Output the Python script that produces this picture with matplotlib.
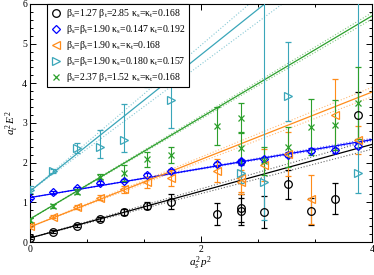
import numpy as np
import matplotlib
matplotlib.use('Agg')
import matplotlib.pyplot as plt
from matplotlib.ticker import MultipleLocator

plt.rcParams['font.family'] = ['Liberation Serif', 'DejaVu Serif']
plt.rcParams['mathtext.fontset'] = 'custom'
plt.rcParams['mathtext.rm'] = 'Liberation Serif'
plt.rcParams['mathtext.it'] = 'Liberation Serif:italic'

# momentum values a_s^2 p^2 (n^2 = 9 appears twice)
p2 = [0, 0.274, 0.548, 0.822, 1.097, 1.371, 1.645, 2.193, 2.467, 2.467,
      2.742, 3.016, 3.290, 3.564, 3.838]

black_y = [0.11, 0.26, 0.41, 0.57, 0.76, 0.91, 1.02, 0.70, 0.85, 0.77, 0.76, 1.45, 0.77, 1.09, 3.19]
black_err = [0.03, 0.03, 0.04, 0.05, 0.07, 0.09, 0.20, 0.28, 0.35, 0.35, 0.40, 0.36, 0.33, 0.39, 0.60]

blue_y = [1.11, 1.25, 1.36, 1.49, 1.55, 1.68, 1.78, 1.97, 2.03, 2.01, 2.08, 2.20, 2.30, 2.31, 2.43]
blue_err = [0.03, 0.03, 0.03, 0.04, 0.04, 0.05, 0.05, 0.05, 0.06, 0.06, 0.06, 0.06, 0.06, 0.07, 0.07]

orange_y = [0.41, 0.64, 0.88, 1.12, 1.33, 1.51, 1.61, 1.80, 1.51, 1.62, 1.95, 2.22, 1.08, 3.21, 2.58]
orange_err = [0.04, 0.04, 0.05, 0.07, 0.09, 0.14, 0.20, 0.30, 0.30, 0.35, 0.40, 0.55, 0.62, 0.90, 0.35]

green_y = [0.56, 0.91, 1.27, 1.65, 1.75, 2.08, 2.20, 2.92, 3.13, 2.37, 2.05, 2.40, 2.90, 2.94, 3.50]
green_err = [0.05, 0.05, 0.06, 0.07, 0.20, 0.20, 0.20, 0.48, 0.38, 0.40, 0.35, 0.50, 0.70, 0.63, 0.90]

teal_x = [0, 0.274, 0.548, 0.822, 1.097, 1.371, 1.645, 2.467, 2.742, 3.016, 3.838]
teal_y = [1.32, 1.78, 2.37, 2.40, 2.56, 4.60, 3.59, 1.74, 1.51, 3.67, 1.74]
teal_lo = [0.08, 0.05, 0.13, 0.28, 0.28, 0.70, 0.71, 0.25, 0.95, 0.63, 0.51]
teal_hi = [0.08, 0.05, 0.13, 0.42, 0.91, 0.70, 0.38, 0.25, 5.00, 1.37, 5.00]

# dispersion fits: intercept, slope, slope error
fit_a = [0.10, 1.12, 0.38, 1.28, 0.58]
fit_b = [0.59, 0.365, 0.85, 1.72, 1.28]
fit_db = [0.03, 0.008, 0.03, 0.12, 0.02]

labels = [
    r'β$_\mathrm{s}$=1.27 β$_\mathrm{t}$=2.85 κ$_\mathrm{s}$=κ$_\mathrm{t}$=0.168',
    r'β$_\mathrm{s}$=β$_\mathrm{t}$=1.90 κ$_\mathrm{s}$=0.147 κ$_\mathrm{t}$=0.192',
    r'β$_\mathrm{s}$=β$_\mathrm{t}$=1.90 κ$_\mathrm{s}$=κ$_\mathrm{t}$=0.168',
    r'β$_\mathrm{s}$=β$_\mathrm{t}$=1.90 κ$_\mathrm{s}$=0.180 κ$_\mathrm{t}$=0.157',
    r'β$_\mathrm{s}$=2.37 β$_\mathrm{t}$=1.52 κ$_\mathrm{s}$=κ$_\mathrm{t}$=0.168',
]
colors = ['black', '#0000ff', '#ff8c1a', '#3aa6b9', '#2ca02c']
markers = ['o', 'D', '<', '>', 'x']
msizes = [5.5, 4, 5.5, 5.5, 4]

fig = plt.figure(figsize=(3.74, 2.75), dpi=100)
ax = fig.add_axes([0.0802, 0.12, 0.9144, 0.8655])

# fit lines with error band
xx = np.array([0.0, 4.0])
for i in range(5):
    c = colors[i]
    ax.plot(xx, fit_a[i] + fit_b[i] * xx, color=c, lw=0.9, zorder=2)
    for s in (-1, 1):
        ax.plot(xx, fit_a[i] + (fit_b[i] + s * fit_db[i]) * xx, color=c,
                lw=0.8, ls=':', alpha=0.6, zorder=2)

series = [
    (p2, black_y, black_err),
    (p2, blue_y, blue_err),
    (p2, orange_y, orange_err),
    (teal_x, teal_y, [teal_lo, teal_hi]),
    (p2, green_y, green_err),
]
handles = []
for i, (xs, ys, es) in enumerate(series):
    h = ax.errorbar(xs, ys, yerr=es, fmt=markers[i], color=colors[i],
                    mfc='none', mec=colors[i], ms=msizes[i], mew=0.9,
                    elinewidth=0.8, capsize=2.5, capthick=0.8,
                    ecolor=colors[i], zorder=3)
    handles.append(h)

ax.set_xlim(0, 4)
ax.set_ylim(0, 6)
ax.xaxis.set_major_locator(MultipleLocator(2))
ax.xaxis.set_minor_locator(MultipleLocator(2 / 3))
ax.yaxis.set_major_locator(MultipleLocator(1))
ax.yaxis.set_minor_locator(MultipleLocator(0.2))
ax.tick_params(which='both', direction='in', top=True, right=True,
               labelsize=7, pad=2, width=0.7)
ax.tick_params(which='major', length=4)
ax.tick_params(which='minor', length=2)
for sp in ax.spines.values():
    sp.set_linewidth(0.8)

ax.set_xlabel(r'$a_s^{\,2}p^{\,2}$', fontsize=8, labelpad=1)
ax.set_ylabel(r'$a_t^{\,2}E^{\,2}$', fontsize=8, labelpad=1)

leg = ax.legend([handles[k][0] for k in range(5)], labels, loc='upper left',
                bbox_to_anchor=(0.05, 1.0), fontsize=7, frameon=True,
                fancybox=False, edgecolor='black', framealpha=1,
                borderpad=0.35, labelspacing=0.3, handletextpad=0.4,
                handlelength=1.2, borderaxespad=0)
leg.get_frame().set_linewidth(0.8)
leg.set_zorder(10)

plt.savefig('out.png', dpi=100)
